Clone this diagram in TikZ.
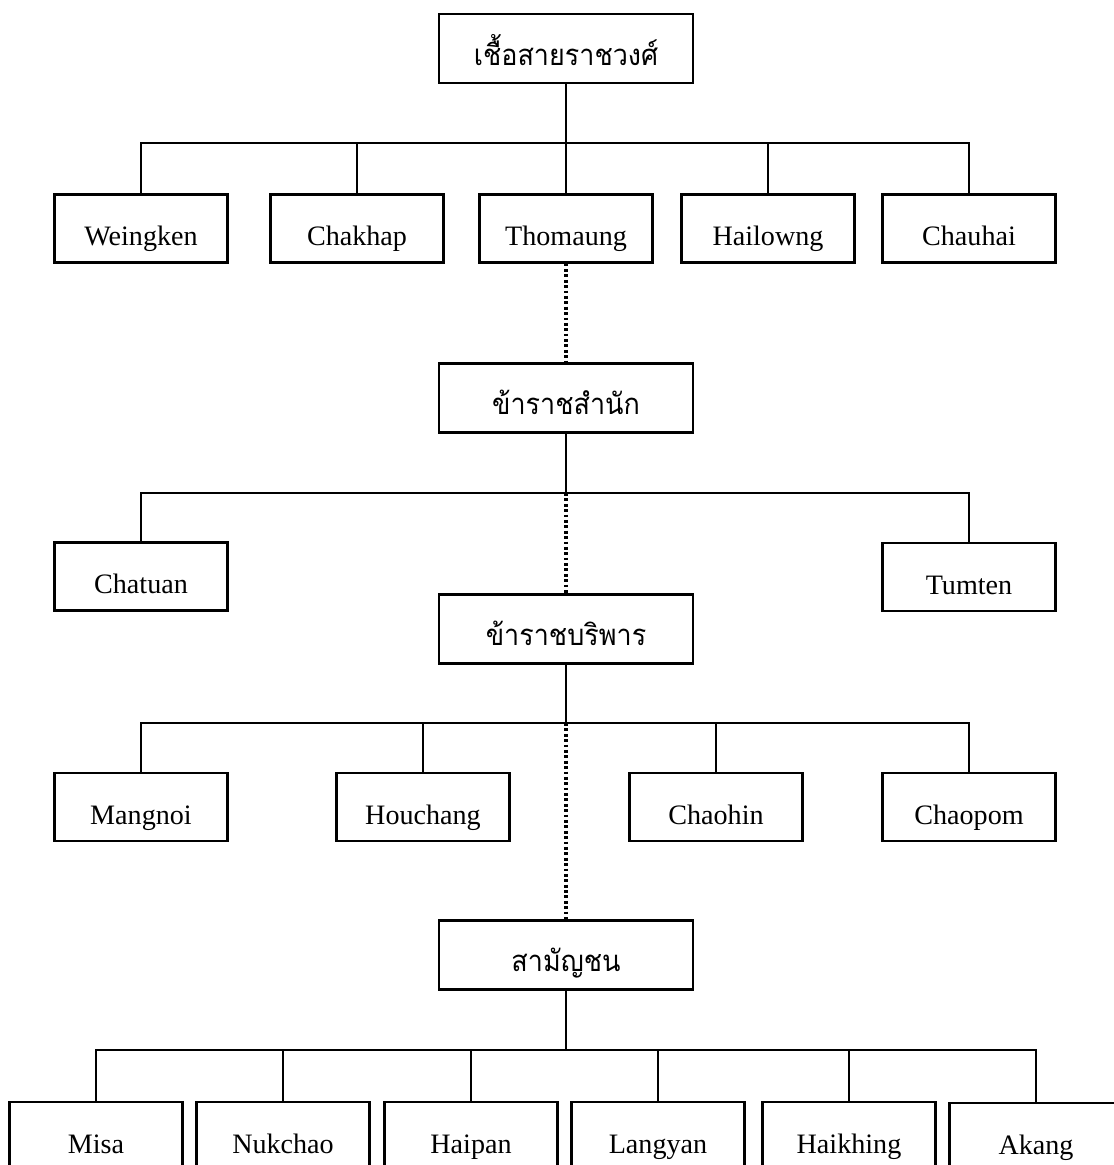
\documentclass[tikz,border=0pt]{standalone}
\usepackage{fontspec}
\setmainfont{Liberation Serif}
\newfontfamily\thaifont[Script=Thai,FakeStretch=0.92]{Loma}
\begin{document}
\begin{tikzpicture}[x=0.03cm,y=-0.03cm,
  namebox/.style={draw, rectangle, line width=1.9pt, minimum width=5.19cm, minimum height=2.04cm, inner sep=0pt, text height=1.02cm, text depth=0pt, font=\fontsize{24}{28}\selectfont},
  rankbox/.style={draw, rectangle, line width=1.9pt, minimum width=7.6cm, minimum height=2.07cm, inner sep=0pt, text height=0.99cm, text depth=0pt, font=\thaifont\fontsize{25}{29}\selectfont},
  link/.style={line width=1.5pt},
  rankdot/.style={line width=2.6pt, dash pattern=on 2.4pt off 2.2pt}]
\clip (0,0) rectangle (1114,1165);
\fill[white] (0,0) rectangle (1114,1165);
% royal line
\node[rankbox] (royal) at (566,48.5) {เชื้อสายราชวงศ์};
\node[namebox] (wei) at (141,228.5) {Weingken};
\node[namebox] (cha) at (357,228.5) {Chakhap};
\node[namebox] (tho) at (566,228.5) {Thomaung};
\node[namebox] (hai) at (768,228.5) {Hailowng};
\node[namebox] (chu) at (969,228.5) {Chauhai};
\coordinate (bus1) at (566,143);
\draw[link] (royal) -- (bus1);
\draw[link] (wei.north) |- (bus1) -| (chu.north);
\draw[link] (bus1 -| cha.north) -- (cha.north);
\draw[link] (bus1) -- (tho.north);
\draw[link] (bus1 -| hai.north) -- (hai.north);
% court
\node[rankbox] (court) at (566,398) {ข้าราชสำนัก};
\draw[rankdot] (tho.south) -- (court.north);
\node[namebox] (chat) at (141,576.5) {Chatuan};
\node[namebox] (tum) at (969,577) {Tumten};
\coordinate (bus2) at (566,493);
\draw[link] (court) -- (bus2);
\draw[link] (chat.north) |- (bus2) -| (tum.north);
% retainers
\node[rankbox] (serv) at (566,629) {ข้าราชบริพาร};
\draw[rankdot] (bus2) -- (serv.north);
\node[namebox] (man) at (141,807) {Mangnoi};
\node[namebox] (hou) at (423,807) {Houchang};
\node[namebox] (chh) at (716,807) {Chaohin};
\node[namebox] (chp) at (969,807) {Chaopom};
\coordinate (bus3) at (566,723);
\draw[link] (serv) -- (bus3);
\draw[link] (man.north) |- (bus3) -| (chp.north);
\draw[link] (bus3 -| hou.north) -- (hou.north);
\draw[link] (bus3 -| chh.north) -- (chh.north);
% commoners
\node[rankbox] (comm) at (566,955) {สามัญชน};
\draw[rankdot] (bus3) -- (comm.north);
\node[namebox] (mis) at (96,1136) {Misa};
\node[namebox] (nuk) at (283,1136) {Nukchao};
\node[namebox] (hpn) at (471,1136) {Haipan};
\node[namebox] (lan) at (658,1136) {Langyan};
\node[namebox] (hkh) at (849,1136) {Haikhing};
\node[namebox] (aka) at (1036,1137) {Akang};
\coordinate (bus4) at (566,1050);
\draw[link] (comm) -- (bus4);
\draw[link] (mis.north) |- (bus4) -| (aka.north);
\draw[link] (bus4 -| nuk.north) -- (nuk.north);
\draw[link] (bus4 -| hpn.north) -- (hpn.north);
\draw[link] (bus4 -| lan.north) -- (lan.north);
\draw[link] (bus4 -| hkh.north) -- (hkh.north);
\end{tikzpicture}
\end{document}
